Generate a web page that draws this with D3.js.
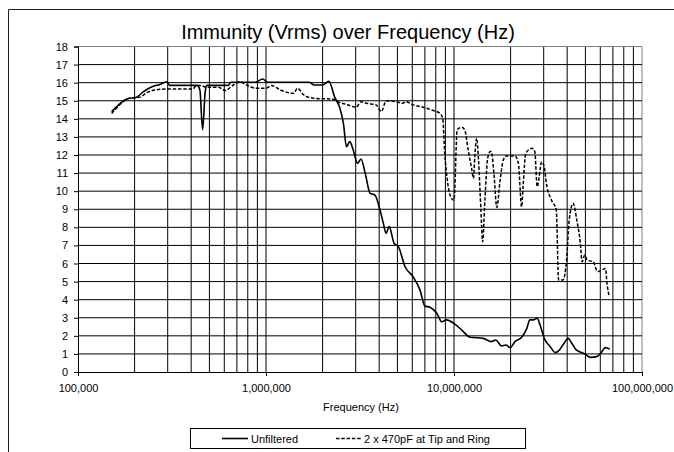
<!DOCTYPE html>
<html><head><meta charset="utf-8">
<script src="https://cdn.jsdelivr.net/npm/d3@7/dist/d3.min.js"></script>
<style>
html,body{margin:0;padding:0;background:#fff;}
svg{display:block;font-family:"Liberation Sans",Arial,sans-serif;}
</style></head>
<body>
<svg id="chart" width="674" height="452"></svg>
<script>
const titleText = "Immunity (Vrms) over Frequency (Hz)";
const xAxisTitle = "Frequency (Hz)";
const seriesNames = ["Unfiltered", "2 x 470pF at Tip and Ring"];
const xTickValues = [1e5, 1e6, 1e7, 1e8];
const yTickValues = [0,1,2,3,4,5,6,7,8,9,10,11,12,13,14,15,16,17,18];

const freqUnfiltered = [1.51e5,1.82e5,2.05e5,2.23e5,2.51e5,2.73e5,2.96e5,3.08e5,3.5e5,4.3e5,4.45e5,4.6e5,4.75e5,4.85e5,6.3e5,6.5e5,8.8e5,9.6e5,1.02e6,1.7e6,1.8e6,2.0e6,2.16e6,2.32e6,2.47e6,2.58e6,2.68e6,2.79e6,2.91e6,3.07e6,3.2e6,3.37e6,3.58e6,3.79e6,4.04e6,4.21e6,4.35e6,4.52e6,4.8e6,5.06e6,5.49e6,6.06e6,6.59e6,7.0e6,7.45e6,8.1e6,8.6e6,9.1e6,1.01e7,1.1e7,1.22e7,1.43e7,1.58e7,1.67e7,1.79e7,1.89e7,1.99e7,2.11e7,2.29e7,2.44e7,2.53e7,2.64e7,2.77e7,2.87e7,3.02e7,3.25e7,3.46e7,3.61e7,3.85e7,4.05e7,4.23e7,4.47e7,4.96e7,5.3e7,5.74e7,6.12e7,6.37e7,6.73e7];
const voltsUnfiltered = [14.4,15.1,15.2,15.5,15.8,15.9,16.05,15.85,15.85,15.85,15.6,13.4,15.5,15.85,15.85,16.02,16.02,16.2,16.02,16.02,15.87,15.87,16.08,15.2,14.6,13.75,12.46,12.74,12.28,11.54,11.78,10.99,9.88,9.79,8.96,8.22,7.67,8.04,7.12,6.93,5.82,5.27,4.54,3.65,3.58,3.25,2.78,2.88,2.65,2.32,1.92,1.86,1.68,1.77,1.44,1.49,1.35,1.68,1.92,2.41,2.88,2.88,2.97,2.6,1.86,1.4,1.07,1.18,1.59,1.86,1.59,1.22,1.0,0.81,0.85,1.12,1.35,1.27];

const freqFiltered = [1.51e5,1.74e5,1.85e5,2.14e5,2.32e5,2.73e5,3.0e5,4.1e5,4.25e5,4.5e5,4.8e5,5.6e5,6.05e5,6.7e5,7.26e5,7.88e5,8.9e5,1.0e6,1.07e6,1.19e6,1.4e6,1.47e6,1.59e6,1.79e6,2.27e6,2.47e6,2.68e6,3.02e6,3.2e6,3.43e6,3.86e6,4.1e6,4.36e6,4.93e6,5.34e6,5.56e6,6.06e6,6.85e6,7.6e6,8.41e6,8.7e6,8.93e6,9.3e6,9.7e6,1.0e7,1.04e7,1.1e7,1.14e7,1.19e7,1.24e7,1.27e7,1.29e7,1.32e7,1.35e7,1.39e7,1.42e7,1.46e7,1.51e7,1.56e7,1.58e7,1.63e7,1.69e7,1.76e7,1.83e7,1.9e7,2.11e7,2.2e7,2.29e7,2.33e7,2.41e7,2.6e7,2.69e7,2.77e7,2.87e7,2.92e7,3.02e7,3.1e7,3.3e7,3.5e7,3.6e7,3.8e7,3.97e7,4.1e7,4.3e7,4.5e7,4.7e7,4.8e7,4.96e7,5.1e7,5.5e7,5.8e7,6.1e7,6.4e7,6.5e7,6.7e7];
const voltsFiltered = [14.3,14.95,15.13,15.2,15.45,15.63,15.65,15.65,15.85,15.85,15.75,15.75,15.56,15.87,16.05,15.87,15.69,15.69,15.84,15.6,15.41,15.69,15.32,15.14,15.08,14.9,14.8,14.64,14.95,14.86,14.77,14.4,14.99,14.95,14.86,14.95,14.77,14.64,14.49,14.31,14.03,12.1,10.3,9.6,9.5,13.4,13.53,13.39,12.28,11.27,10.71,11.91,12.93,11.73,9.0,7.2,9.5,11.8,12.19,12.19,11.0,9.1,10.62,11.73,11.95,11.95,11.54,9.14,10.25,12.1,12.37,12.19,10.25,11.17,11.63,11.35,10.43,9.51,8.96,5.09,5.09,6.19,8.4,9.33,8.4,7.12,6.1,6.47,6.19,6.1,5.55,5.64,5.73,4.99,4.17];

const svg = d3.select("#chart");
const L = 78, R = 642, T = 46.5, B = 372;
const x = d3.scaleLog().domain([1e5, 1e8]).range([L, R]);
const y = d3.scaleLinear().domain([0, 18]).range([B, T]);

// outer chart frame (clipped by the window on right/bottom)
svg.append("path").attr("d", `M8.5,460 V9.5 H700`).attr("fill","none").attr("stroke","#222").attr("stroke-width",1);

// title
svg.append("text").attr("x", 348).attr("y", 39).attr("text-anchor","middle")
  .attr("font-size", 20).attr("fill","#000").text(titleText);

// gridlines
const g = svg.append("g");
const minor = [];
for (let d = 1e5; d < 1e8; d *= 10) for (let k = 2; k <= 10; k++) minor.push(d * k);
g.selectAll("line.v").data(minor).join("line")
  .attr("x1", d => x(d)).attr("x2", d => x(d)).attr("y1", T).attr("y2", B)
  .attr("stroke", d => d === 1e8 ? "#808080" : "#000").attr("stroke-width", 1);
g.selectAll("line.h").data(yTickValues.slice(1)).join("line")
  .attr("x1", L).attr("x2", R).attr("y1", d => y(d)).attr("y2", d => y(d))
  .attr("stroke", d => d === 18 ? "#808080" : "#000").attr("stroke-width", 1);

// axes
const xAxis = d3.axisBottom(x).tickValues(xTickValues).tickSize(4).tickPadding(8)
  .tickFormat(d3.format(",.0f"));
const gx = svg.append("g").attr("transform", `translate(0,${B})`).call(xAxis);
gx.select(".domain").attr("stroke","#000");
gx.selectAll("text").attr("font-size", 11).attr("font-family","Liberation Sans, Arial, sans-serif").attr("fill","#000");

const yAxis = d3.axisLeft(y).tickValues(yTickValues).tickSize(4).tickPadding(6);
const gy = svg.append("g").attr("transform", `translate(${L},0)`).call(yAxis);
gy.select(".domain").attr("stroke","#000");
gy.selectAll("text").attr("font-size", 11).attr("font-family","Liberation Sans, Arial, sans-serif").attr("fill","#000");

// x axis title
svg.append("text").attr("x", 361).attr("y", 411).attr("text-anchor","middle")
  .attr("font-size", 11).text(xAxisTitle);

// series
const line = d3.line().x(d => x(d[0])).y(d => y(d[1])).curve(d3.curveMonotoneX);
const dataU = freqUnfiltered.map((f, i) => [f, voltsUnfiltered[i]]);
const dataF = freqFiltered.map((f, i) => [f, voltsFiltered[i]]);
svg.append("path").datum(dataF).attr("d", line).attr("fill","none")
  .attr("stroke","#000").attr("stroke-width",1.5).attr("stroke-dasharray","3.5,1.8");
svg.append("path").datum(dataU).attr("d", line).attr("fill","none")
  .attr("stroke","#000").attr("stroke-width",1.6);

// legend
const lg = svg.append("g");
lg.append("rect").attr("x", 190.5).attr("y", 428.5).attr("width", 335).attr("height", 20)
  .attr("fill","#fff").attr("stroke","#000").attr("stroke-width",1);
lg.append("line").attr("x1",222).attr("x2",248).attr("y1",438.5).attr("y2",438.5)
  .attr("stroke","#000").attr("stroke-width",1.6);
lg.append("text").attr("x",251).attr("y",442.5).attr("font-size",11).text(seriesNames[0]);
lg.append("line").attr("x1",336).attr("x2",362).attr("y1",438.5).attr("y2",438.5)
  .attr("stroke","#000").attr("stroke-width",1.5).attr("stroke-dasharray","3.5,1.8");
lg.append("text").attr("x",364).attr("y",442.5).attr("font-size",11).text(seriesNames[1]);
</script>
</body></html>
